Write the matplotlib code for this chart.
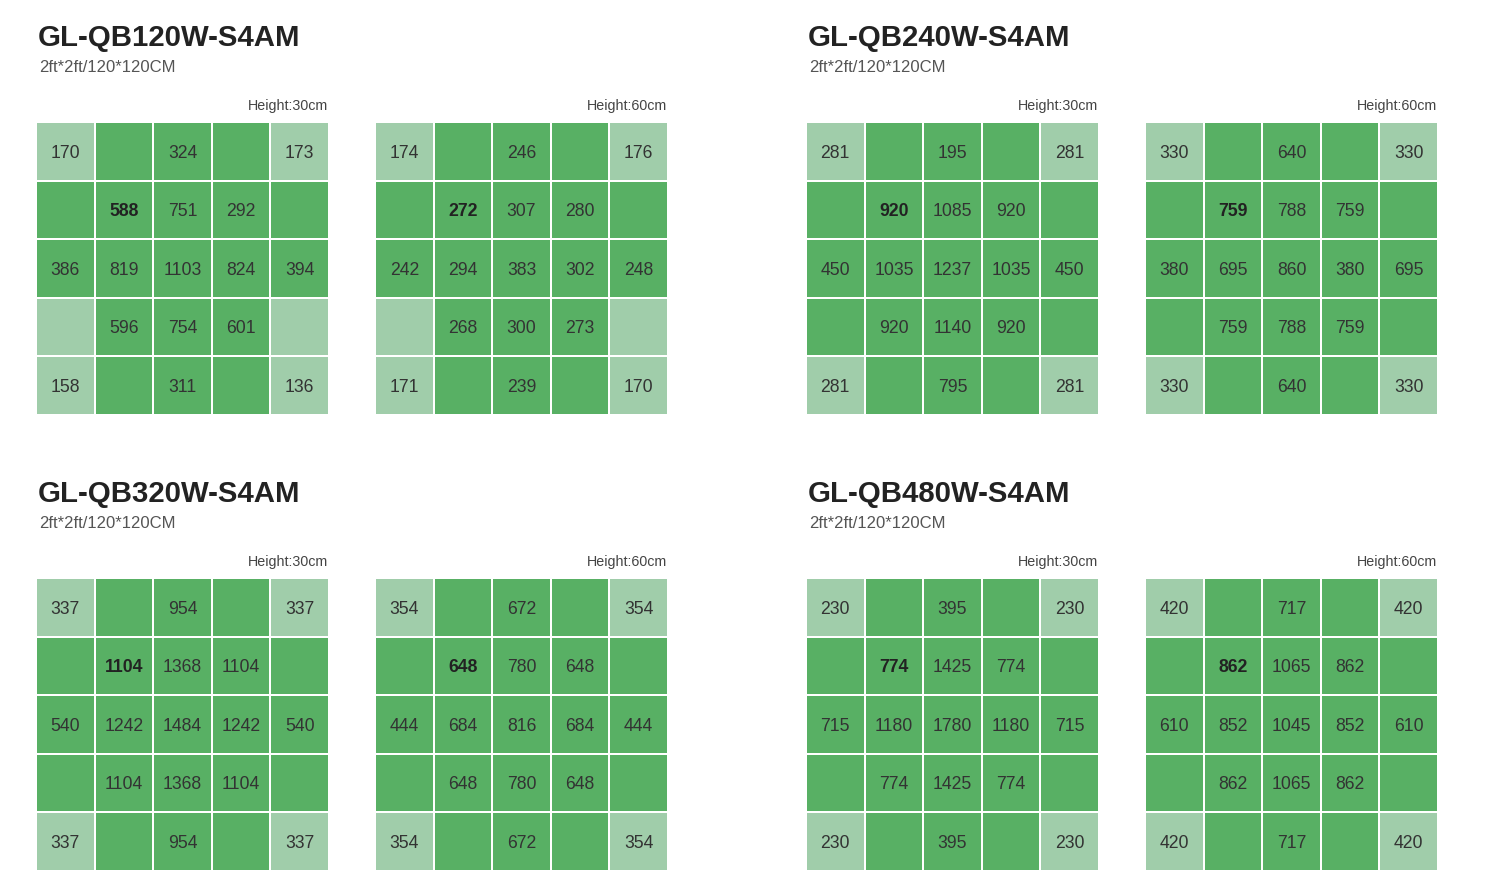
import numpy as np
import matplotlib.pyplot as plt
from matplotlib.colors import ListedColormap

plt.rcParams['font.family'] = ['Liberation Sans', 'DejaVu Sans']

# ------ data ------
products = ['GL-QB120W-S4AM', 'GL-QB240W-S4AM', 'GL-QB320W-S4AM', 'GL-QB480W-S4AM']
size_label = '2ft*2ft/120*120CM'
heights = ['Height:30cm', 'Height:60cm']
n = np.nan

qb120_30 = [[170, n, 324, n, 173],
            [n, 588, 751, 292, n],
            [386, 819, 1103, 824, 394],
            [n, 596, 754, 601, n],
            [158, n, 311, n, 136]]
qb120_60 = [[174, n, 246, n, 176],
            [n, 272, 307, 280, n],
            [242, 294, 383, 302, 248],
            [n, 268, 300, 273, n],
            [171, n, 239, n, 170]]
qb240_30 = [[281, n, 195, n, 281],
            [n, 920, 1085, 920, n],
            [450, 1035, 1237, 1035, 450],
            [n, 920, 1140, 920, n],
            [281, n, 795, n, 281]]
qb240_60 = [[330, n, 640, n, 330],
            [n, 759, 788, 759, n],
            [380, 695, 860, 380, 695],
            [n, 759, 788, 759, n],
            [330, n, 640, n, 330]]
qb320_30 = [[337, n, 954, n, 337],
            [n, 1104, 1368, 1104, n],
            [540, 1242, 1484, 1242, 540],
            [n, 1104, 1368, 1104, n],
            [337, n, 954, n, 337]]
qb320_60 = [[354, n, 672, n, 354],
            [n, 648, 780, 648, n],
            [444, 684, 816, 684, 444],
            [n, 648, 780, 648, n],
            [354, n, 672, n, 354]]
qb480_30 = [[230, n, 395, n, 230],
            [n, 774, 1425, 774, n],
            [715, 1180, 1780, 1180, 715],
            [n, 774, 1425, 774, n],
            [230, n, 395, n, 230]]
qb480_60 = [[420, n, 717, n, 420],
            [n, 862, 1065, 862, n],
            [610, 852, 1045, 852, 610],
            [n, 862, 1065, 862, n],
            [420, n, 717, n, 420]]

grids = [[qb120_30, qb120_60], [qb240_30, qb240_60],
         [qb320_30, qb320_60], [qb480_30, qb480_60]]

# light cells (1) vs normal green (0)
shade_120 = [[1, 0, 0, 0, 1],
             [0, 0, 0, 0, 0],
             [0, 0, 0, 0, 0],
             [1, 0, 0, 0, 1],
             [1, 0, 0, 0, 1]]
shade_std = [[1, 0, 0, 0, 1],
             [0, 0, 0, 0, 0],
             [0, 0, 0, 0, 0],
             [0, 0, 0, 0, 0],
             [1, 0, 0, 0, 1]]
shades = [shade_120, shade_std, shade_std, shade_std]

bold_cell = (1, 1)

# ------ layout (pixels) ------
W, H = 1486, 894
fig = plt.figure(figsize=(W / 100, H / 100), dpi=100)
cmap = ListedColormap(['#58b064', '#a0cdaa'])

block_x = [37, 807]
block_y = [123, 579]
grid_dx = 339
gsize = 291
pad = 1  # outer white edge half sits outside the cells


def px_axes(x0, y0, w, h):
    return fig.add_axes([x0 / W, 1 - (y0 + h) / H, w / W, h / H])


for p, name in enumerate(products):
    bx = block_x[p % 2]
    by = block_y[p // 2]
    fig.text((bx + 1) / W, 1 - (by - 85) / H, name, fontsize=21.2,
             fontweight='bold', color='#222222', va='center', ha='left')
    fig.text((bx + 2) / W, 1 - (by - 55) / H, size_label, fontsize=12,
             color='#555555', va='center', ha='left')
    for g in range(2):
        gx = bx + g * grid_dx
        ax = px_axes(gx - pad, by - pad, gsize + 2 * pad, gsize + 2 * pad)
        vals = np.array(grids[p][g], dtype=float)
        ax.pcolormesh(np.array(shades[p]), cmap=cmap, vmin=0, vmax=1,
                      edgecolor='white', linewidth=1.3)
        ax.set_xlim(0, 5)
        ax.set_ylim(5, 0)
        ax.axis('off')
        for i in range(5):
            for j in range(5):
                v = vals[i, j]
                if np.isnan(v):
                    continue
                bold = (i, j) == bold_cell
                ax.text(j + 0.5, i + 0.53, f'{int(v)}', ha='center', va='center',
                        fontsize=12.7,
                        fontweight='bold' if bold else 'normal',
                        color='#222222' if bold else '#333333')
        fig.text((gx + gsize) / W, 1 - (by - 17) / H, heights[g], fontsize=10.3,
                 color='#444444', ha='right', va='center')

fig.savefig('out.png', dpi=100, facecolor='white')
